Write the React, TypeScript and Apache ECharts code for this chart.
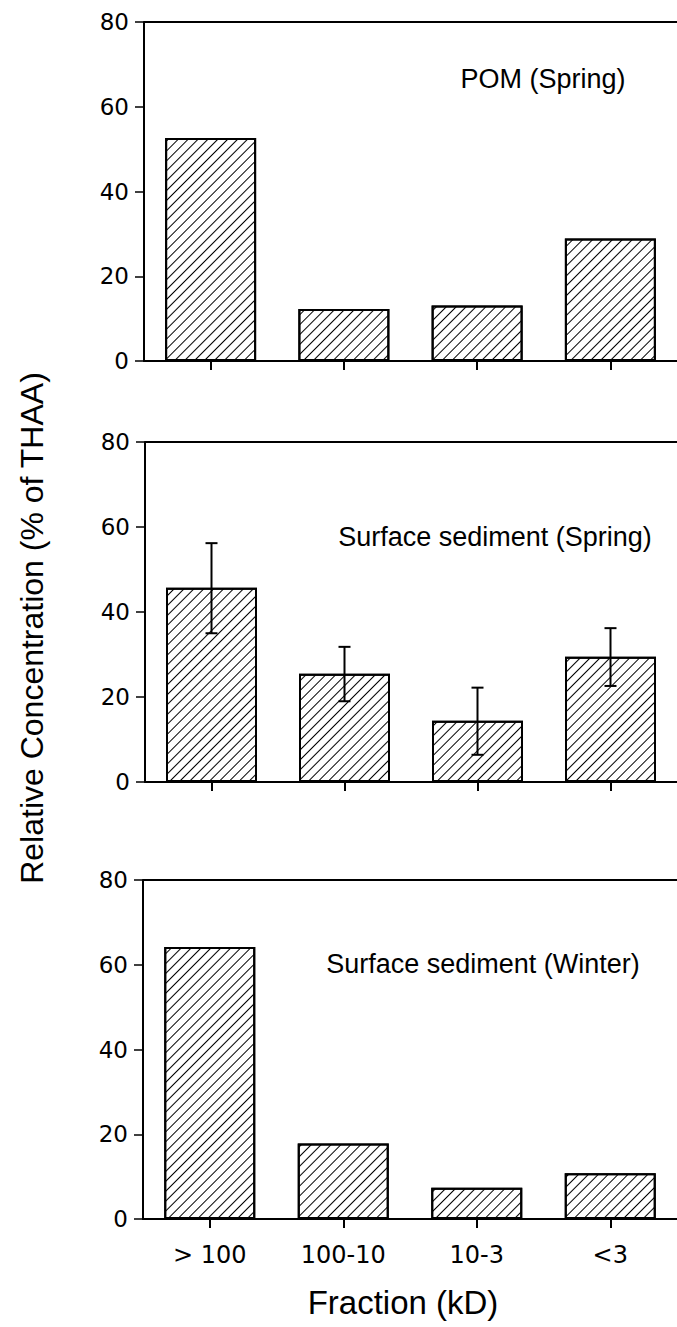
import React, { useEffect, useRef } from "react";
import * as echarts from "echarts";

const categories = ["> 100", "100-10", "10-3", "<3"];
const pomSpring = [52.6, 12.3, 13.1, 28.9];
const sedSpring = [45.7, 25.5, 14.4, 29.5];
const sedSpringLow = [35.0, 19.0, 6.4, 22.6];
const sedSpringHigh = [56.2, 31.8, 22.2, 36.2];
const sedWinter = [64.2, 17.8, 7.4, 10.8];
const yTicks = { min: 0, max: 80, interval: 20 };
const panelTitles = ["POM (Spring)", "Surface sediment (Spring)", "Surface sediment (Winter)"];
const xTitle = "Fraction (kD)";
const yTitle = "Relative Concentration (% of THAA)";

const FONT = "'Liberation Sans', Arial, Helvetica, sans-serif";
const NUMFONT = "'DejaVu Sans', sans-serif";

export default function App() {
  const ref = useRef<HTMLDivElement>(null);
  useEffect(() => {
    if (!ref.current) return;
    const chart = echarts.init(ref.current, null, { renderer: "svg" });
    const grids = [
      { left: 144, top: 22, width: 544, height: 339 },
      { left: 145, top: 442, width: 544, height: 340 },
      { left: 143, top: 880, width: 544, height: 339 },
    ];
    const panels = [pomSpring, sedSpring, sedWinter];
    const decal = {
      symbol: "rect",
      symbolSize: 1,
      color: "#000",
      backgroundColor: "#fff",
      dashArrayX: [1, 0],
      dashArrayY: [1, 5.2],
      rotation: -Math.PI / 4,
    };
    const series: any[] = panels.map((d, i) => ({
      type: "bar",
      xAxisIndex: i,
      yAxisIndex: i,
      data: d,
      barWidth: 91,
      itemStyle: { color: "#fff", borderColor: "#000", borderWidth: 2, decal },
      markLine: {
        silent: true,
        symbol: "none",
        label: { show: false },
        lineStyle: { color: "#000", width: 2, type: "solid" },
        data: [{ yAxis: yTicks.max }],
      },
    }));
    series.push({
      type: "custom",
      xAxisIndex: 1,
      yAxisIndex: 1,
      z: 10,
      data: categories.map((_, i) => [i, sedSpringLow[i], sedSpringHigh[i]]),
      encode: { x: 0, y: [1, 2] },
      renderItem: (params: any, api: any) => {
        const lo = api.coord([api.value(0), api.value(1)]);
        const hi = api.coord([api.value(0), api.value(2)]);
        const hw = 6;
        const st = { stroke: "#000", lineWidth: 2 };
        return {
          type: "group",
          children: [
            { type: "line", shape: { x1: lo[0], y1: lo[1], x2: hi[0], y2: hi[1] }, style: st },
            { type: "line", shape: { x1: hi[0] - hw, y1: hi[1], x2: hi[0] + hw, y2: hi[1] }, style: st },
            { type: "line", shape: { x1: lo[0] - hw, y1: lo[1], x2: lo[0] + hw, y2: lo[1] }, style: st },
          ],
        };
      },
    });
    const titlePos = [
      { x: 543, y: 79 },
      { x: 495, y: 537 },
      { x: 483, y: 964 },
    ];
    chart.setOption({
      animation: false,
      backgroundColor: "#fff",
      grid: grids,
      xAxis: grids.map((_, i) => ({
        type: "category",
        gridIndex: i,
        data: categories,
        axisLine: { show: true, lineStyle: { color: "#000", width: 2 } },
        axisTick: { show: true, alignWithLabel: true, length: 9, lineStyle: { color: "#000", width: 2 } },
        axisLabel: {
          show: i === 2,
          color: "#000",
          fontSize: 24,
          fontFamily: NUMFONT,
          margin: 24,
        },
        splitLine: { show: false },
      })),
      yAxis: grids.map((_, i) => ({
        type: "value",
        gridIndex: i,
        min: yTicks.min,
        max: yTicks.max,
        interval: yTicks.interval,
        axisLine: { show: true, lineStyle: { color: "#000", width: 2 } },
        axisTick: { show: true, length: 9, lineStyle: { color: "#000", width: 1.5 } },
        axisLabel: { color: "#000", fontSize: 23, fontFamily: NUMFONT, margin: 15 },
        splitLine: { show: false },
      })),
      graphic: [
        ...panelTitles.map((t, i) => ({
          type: "text",
          x: titlePos[i].x,
          y: titlePos[i].y,
          style: { text: t, fill: "#000", font: `27px ${FONT}`, align: "center", verticalAlign: "middle" },
        })),
        {
          type: "text",
          x: 403,
          y: 1302,
          style: { text: xTitle, fill: "#000", font: `33px ${FONT}`, align: "center", verticalAlign: "middle" },
        },
        {
          type: "text",
          x: 32,
          y: 628,
          rotation: Math.PI / 2,
          style: { text: yTitle, fill: "#000", font: `32px ${FONT}`, align: "center", verticalAlign: "middle" },
        },
      ],
      series,
    });
    return () => chart.dispose();
  }, []);
  return <div ref={ref} style={{ position: "fixed", left: 0, top: 0, width: 677, height: 1327 }} />;
}
